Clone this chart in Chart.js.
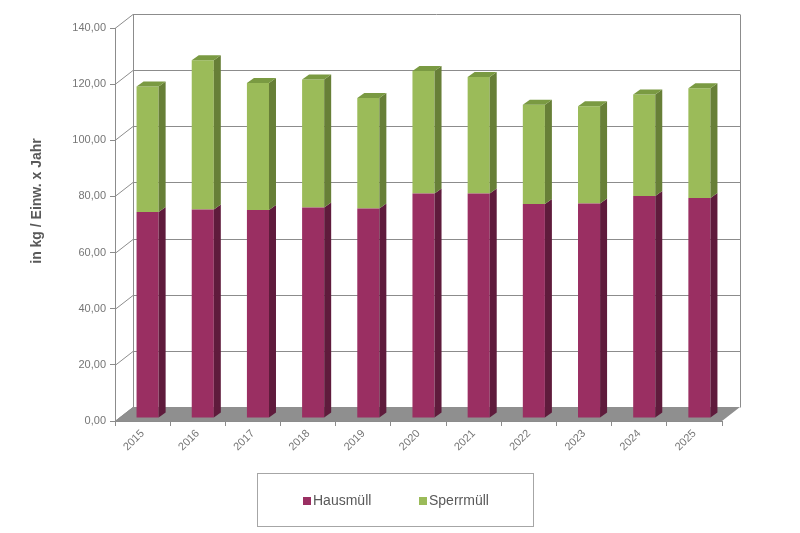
<!DOCTYPE html>
<html>
<head>
<meta charset="utf-8">
<script src="https://cdn.jsdelivr.net/npm/chart.js@4.4.0/dist/chart.umd.min.js"></script>
<style>
  html, body { margin: 0; padding: 0; background: #fff; }
</style>
</head>
<body>
<canvas id="chart" width="800" height="533"></canvas>
<script>
const years = ["2015", "2016", "2017", "2018", "2019", "2020", "2021", "2022", "2023", "2024", "2025"];
const hausmuell = [73.4, 74.3, 74.1, 75.0, 74.6, 80.0, 80.0, 76.2, 76.4, 79.1, 78.4];
const sperrmuell = [44.7, 53.1, 45.2, 45.6, 39.4, 43.6, 41.5, 35.4, 34.7, 36.1, 39.1];
const yMax = 140;
const yStep = 20;
const yTitle = "in kg / Einw. x Jahr";

// fake 3d: offset of the back wall, of the bars and depth of a bar
const wall = { dx: 18, dy: -14 };
const shift = { dx: 5, dy: -3 };
const side = { dx: 7, dy: -5 };
const lineColor = "#8c8c8c";

Chart.defaults.font.family = "'Liberation Sans', Arial, sans-serif";

const threeD = {
  id: "threeD",
  beforeDraw(chart) {
    const { ctx, chartArea: a, scales: { y } } = chart;
    ctx.save();
    // floor
    ctx.fillStyle = "#8f8f8f";
    ctx.beginPath();
    ctx.moveTo(a.left, a.bottom);
    ctx.lineTo(a.right, a.bottom);
    ctx.lineTo(a.right + wall.dx, a.bottom + wall.dy);
    ctx.lineTo(a.left + wall.dx, a.bottom + wall.dy);
    ctx.closePath();
    ctx.fill();

    // back wall grid + left wall diagonals
    ctx.strokeStyle = lineColor;
    ctx.lineWidth = 1;
    ctx.beginPath();
    y.ticks.forEach(t => {
      const py = Math.round(y.getPixelForValue(t.value)) + 0.5;
      ctx.moveTo(a.left, py);
      ctx.lineTo(a.left + wall.dx, py + wall.dy);
      if (t.value > 0) {
        ctx.moveTo(a.left + wall.dx, py + wall.dy);
        ctx.lineTo(a.right + wall.dx, py + wall.dy);
      }
    });
    const top = Math.round(a.top) + 0.5 + wall.dy;
    const bot = Math.round(a.bottom) + 0.5 + wall.dy;
    ctx.moveTo(a.left + wall.dx + 0.5, top);
    ctx.lineTo(a.left + wall.dx + 0.5, bot);
    ctx.moveTo(a.right + wall.dx + 0.5, top);
    ctx.lineTo(a.right + wall.dx + 0.5, bot);
    ctx.stroke();

    // axis title
    ctx.fillStyle = "#595959";
    ctx.font = "bold 14px 'Liberation Sans', Arial, sans-serif";
    ctx.textAlign = "center";
    ctx.textBaseline = "middle";
    ctx.translate(37, 201);
    ctx.rotate(-Math.PI / 2);
    ctx.fillText(yTitle, 0, 0);
    ctx.restore();
  },
  beforeDatasetsDraw(chart) {
    chart.ctx.save();
    chart.ctx.translate(shift.dx, shift.dy);
  },
  afterDatasetsDraw(chart) {
    const ctx = chart.ctx;
    const n = chart.data.datasets.length;
    chart.data.datasets.forEach((ds, di) => {
      chart.getDatasetMeta(di).data.forEach(el => {
        const x1 = el.x - el.width / 2;
        const x2 = el.x + el.width / 2;
        ctx.fillStyle = ds.sideColor;
        ctx.beginPath();
        ctx.moveTo(x2, el.y);
        ctx.lineTo(x2 + side.dx, el.y + side.dy);
        ctx.lineTo(x2 + side.dx, el.base + side.dy);
        ctx.lineTo(x2, el.base);
        ctx.closePath();
        ctx.fill();
        if (di === n - 1) {
          ctx.fillStyle = ds.topColor;
          ctx.beginPath();
          ctx.moveTo(x1, el.y);
          ctx.lineTo(x2, el.y);
          ctx.lineTo(x2 + side.dx, el.y + side.dy);
          ctx.lineTo(x1 + side.dx, el.y + side.dy);
          ctx.closePath();
          ctx.fill();
        }
      });
    });
    ctx.restore();
  },
  afterDraw(chart) {
    // boxed legend
    const ctx = chart.ctx;
    ctx.save();
    ctx.strokeStyle = "#a6a6a6";
    ctx.lineWidth = 1;
    ctx.strokeRect(257.5, 473.5, 276, 53);
    ctx.font = "14px 'Liberation Sans', Arial, sans-serif";
    ctx.textBaseline = "middle";
    ctx.textAlign = "left";
    const xs = [303, 419];
    chart.data.datasets.forEach((ds, i) => {
      ctx.fillStyle = ds.backgroundColor;
      ctx.fillRect(xs[i], 497, 8, 8);
      ctx.fillStyle = "#595959";
      ctx.fillText(ds.label, xs[i] + 10, 501);
    });
    ctx.restore();
  }
};

new Chart(document.getElementById("chart"), {
  type: "bar",
  data: {
    labels: years,
    datasets: [
      {
        label: "Hausmüll",
        data: hausmuell,
        backgroundColor: "#9a2f62",
        sideColor: "#5f1b3c",
        topColor: "#7a2550",
        barPercentage: 0.4,
        categoryPercentage: 1
      },
      {
        label: "Sperrmüll",
        data: sperrmuell,
        backgroundColor: "#9bbb59",
        sideColor: "#677f37",
        topColor: "#7a9a42",
        barPercentage: 0.4,
        categoryPercentage: 1
      }
    ]
  },
  options: {
    responsive: false,
    animation: false,
    layout: { padding: { left: 0, top: 28, right: 78, bottom: 0 } },
    plugins: {
      legend: { display: false },
      tooltip: { enabled: false }
    },
    scales: {
      x: {
        stacked: true,
        grid: { drawOnChartArea: false, tickLength: 5, color: lineColor, offset: true },
        border: { color: lineColor },
        ticks: { color: "#767676", font: { size: 11 }, minRotation: 45, maxRotation: 45, padding: 1 },
        afterFit(s) { s.height = 112; }
      },
      y: {
        stacked: true,
        min: 0,
        max: yMax,
        grid: { drawOnChartArea: false, tickLength: 5, color: lineColor },
        border: { color: lineColor },
        ticks: {
          stepSize: yStep,
          color: "#767676",
          font: { size: 11 },
          padding: 4,
          callback: v => v.toFixed(2).replace(".", ",")
        },
        afterFit(s) { s.width = 115; }
      }
    }
  },
  plugins: [threeD]
});
</script>
</body>
</html>
